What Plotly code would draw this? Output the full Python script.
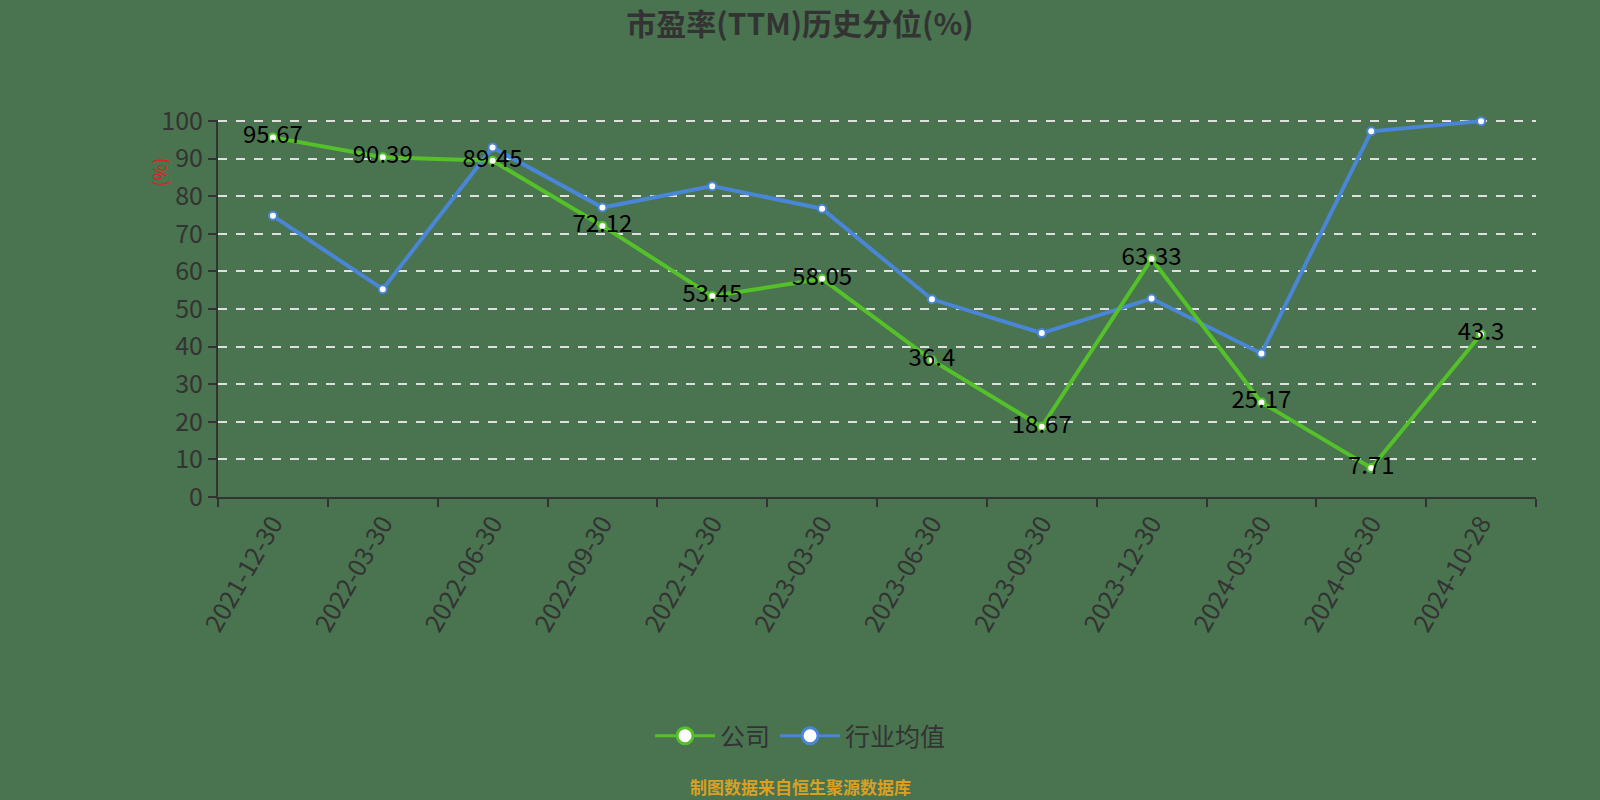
import plotly.graph_objects as go

# 数据
dates = ["2021-12-30", "2022-03-30", "2022-06-30", "2022-09-30", "2022-12-30", "2023-03-30",
         "2023-06-30", "2023-09-30", "2023-12-30", "2024-03-30", "2024-06-30", "2024-10-28"]
company = [95.67, 90.39, 89.45, 72.12, 53.45, 58.05, 36.4, 18.67, 63.33, 25.17, 7.71, 43.3]
industry = [74.8, 55.3, 93.0, 77.0, 82.7, 76.7, 52.6, 43.6, 52.8, 38.2, 97.3, 100.0]

bg = "#4a7350"
green = "#55c12a"
blue = "#4a86d6"
font_cn = "Noto Sans CJK SC"

fig = go.Figure()
fig.add_trace(go.Scatter(
    x=dates, y=industry, name="行业均值", mode="lines+markers", showlegend=False,
    line=dict(color=blue, width=4),
    marker=dict(size=8, color="#ffffff", line=dict(color=blue, width=2)),
    cliponaxis=False,
))
fig.add_trace(go.Scatter(
    x=dates, y=company, name="公司", mode="lines+markers+text", showlegend=False,
    text=[str(v) for v in company], textposition="middle center",
    textfont=dict(size=24, color="#000000", family=font_cn),
    line=dict(color=green, width=4),
    marker=dict(size=8, color="#ffffff", line=dict(color=green, width=2)),
    cliponaxis=False,
))
# 图例用的大圆点
for nm, c in [("公司", green), ("行业均值", blue)]:
    fig.add_trace(go.Scatter(
        x=[None], y=[None], name=nm, mode="lines+markers",
        line=dict(color=c, width=3),
        marker=dict(size=22, color="#ffffff", line=dict(color=c, width=3)),
    ))

fig.update_layout(
    width=1600, height=800,
    paper_bgcolor=bg, plot_bgcolor=bg,
    margin=dict(l=218, r=64, t=120, b=303),
    font=dict(family=font_cn, color="#333333"),
    title=dict(text="<b>市盈率(TTM)历史分位(%)</b>", x=0.5, xanchor="center",
               y=0.97, yanchor="middle", font=dict(size=30, color="#333333")),
    showlegend=True,
    legend=dict(orientation="h", x=0.442, xanchor="center", y=-0.634, yanchor="middle",
                font=dict(size=25, color="#333333"), itemwidth=60,
                bgcolor="rgba(0,0,0,0)"),
    annotations=[
        dict(text="(%)", textangle=-90, x=-0.056, y=0.905, xref="paper", yref="paper",
             showarrow=False, font=dict(size=18, color="#e02020")),
        dict(text="<b>制图数据来自恒生聚源数据库</b>", x=0.442, y=-0.768, xref="paper", yref="paper",
             yanchor="middle", showarrow=False, font=dict(size=17, color="#d9a021")),
    ],
)
fig.update_xaxes(
    type="category", tickson="boundaries", ticks="outside", ticklen=8, tickcolor="#333333",
    tickwidth=2, showline=True, linecolor="#333333", linewidth=2, showgrid=False,
    tickangle=-60, tickfont=dict(size=25, color="#333333"),
    range=[-0.5, 11.5],
)
fig.update_yaxes(
    range=[0, 100.3], tickvals=list(range(0, 101, 10)), ticks="outside", ticklen=8,
    tickcolor="#333333", tickwidth=2,
    showline=True, linecolor="#333333", linewidth=2,
    showgrid=True, gridcolor="#e0e0e0", griddash="dash", gridwidth=1.5,
    zeroline=False, tickfont=dict(size=25, color="#333333"),
)

fig.write_html("out.html", config={"displayModeBar": False},
               post_script="document.body.style.margin='0';")
